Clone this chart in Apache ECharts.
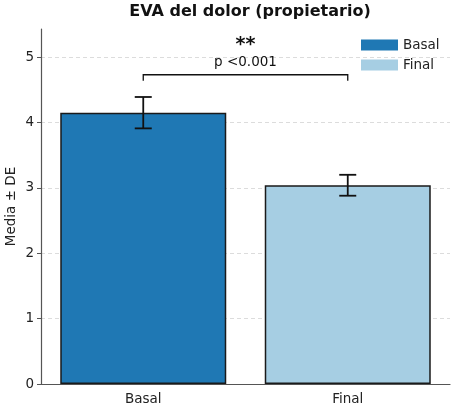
<!DOCTYPE html>
<html>
<head>
<meta charset="utf-8">
<script src="https://cdn.jsdelivr.net/npm/echarts@6/dist/echarts.min.js"></script>
<style>
  html, body { margin: 0; padding: 0; background: #fff; }
  #chart { width: 451px; height: 417px; }
</style>
</head>
<body>
<div id="chart"></div>
<script>
// datos
var categories = ['Basal', 'Final'];
var means = [4.15, 3.04];
var sds = [0.24, 0.16];
var yTicks = [0, 1, 2, 3, 4, 5];
var colors = ['#1f78b4', '#a6cee3'];

// anotación de significación
var sigPair = [0, 1];
var sigBracketY = 4.73;
var sigDrop = 0.09;
var sigStarsY = 5.19;
var sigTextY = 4.92;
var sigStars = '**';
var sigText = 'p <0.001';

var chart = echarts.init(document.getElementById('chart'));
var font = 'DejaVu Sans';

var barSeries = categories.map(function(name, i) {
  return {
    name: name,
    type: 'bar',
    stack: 'g',
    barWidth: 166,
    data: categories.map(function(c, j) { return j === i ? means[i] : '-' }),
    itemStyle: { color: colors[i], borderColor: '#1a1a1a', borderWidth: 1.5 },
    emphasis: { disabled: true },
    z: 2
  }
});

var errData = means.map(function(m, i) { return [i, m - sds[i], m + sds[i]] });

option = {
  animation: false,
  textStyle: { fontFamily: font },
  title: {
    text: 'EVA del dolor (propietario)',
    left: 245, top: -1, textAlign: 'center',
    textStyle: { fontFamily: font, fontSize: 16, fontWeight: 'bold', color: '#111' }
  },
  legend: {
    orient: 'vertical',
    left: 361, top: 37, padding: 0,
    itemWidth: 37, itemHeight: 11, itemGap: 4,
    icon: 'rect',
    data: categories,
    itemStyle: { borderWidth: 0 },
    textStyle: { fontFamily: font, fontSize: 13.5, color: '#222', lineHeight: 16 }
  },
  grid: { left: 41, right: 1, top: 29, bottom: 33, containLabel: false, outerBoundsMode: 'none' },
  xAxis: {
    type: 'category',
    data: categories,
    axisLine: { lineStyle: { color: '#555', width: 1.2 } },
    axisTick: { alignWithLabel: true, length: 4, lineStyle: { color: '#555' } },
    axisLabel: { fontFamily: font, fontSize: 13.5, color: '#222', margin: 8 },
    splitLine: { show: false }
  },
  yAxis: {
    type: 'value',
    min: 0, max: 5.43, interval: 1,
    name: 'Media ± DE',
    nameLocation: 'middle',
    nameGap: 23,
    nameMoveOverlap: false,
    nameTextStyle: { fontFamily: font, fontSize: 13.5, color: '#222' },
    axisLine: { show: true, lineStyle: { color: '#555', width: 1.2 } },
    axisTick: { show: true, length: 4, customValues: yTicks, lineStyle: { color: '#555' } },
    axisLabel: { fontFamily: font, fontSize: 13.5, color: '#222', margin: 7, customValues: yTicks },
    splitLine: { show: true, lineStyle: { color: '#dcdcdc', type: [4, 3], width: 1 } }
  },
  series: barSeries.concat([
    {
      type: 'custom',
      name: 'err',
      data: errData,
      z: 5,
      silent: true,
      renderItem: function(params, api) {
        var lo = api.coord([api.value(0), api.value(1)]);
        var hi = api.coord([api.value(0), api.value(2)]);
        var cap = 8.5;
        var st = { stroke: '#111', lineWidth: 1.8 };
        return {
          type: 'group',
          children: [
            { type: 'line', shape: { x1: lo[0], y1: lo[1], x2: hi[0], y2: hi[1] }, style: st },
            { type: 'line', shape: { x1: lo[0] - cap, y1: lo[1], x2: lo[0] + cap, y2: lo[1] }, style: st },
            { type: 'line', shape: { x1: hi[0] - cap, y1: hi[1], x2: hi[0] + cap, y2: hi[1] }, style: st }
          ]
        };
      }
    },
    {
      type: 'custom',
      name: 'sig',
      data: [[sigPair[0], sigPair[1], sigBracketY]],
      z: 5,
      silent: true,
      clip: false,
      renderItem: function(params, api) {
        var a = api.coord([api.value(0), api.value(2)]);
        var b = api.coord([api.value(1), api.value(2)]);
        var a0 = api.coord([api.value(0), api.value(2) - sigDrop]);
        var b0 = api.coord([api.value(1), api.value(2) - sigDrop]);
        var mid = (a[0] + b[0]) / 2;
        var ys = api.coord([api.value(0), sigStarsY])[1];
        var yp = api.coord([api.value(0), sigTextY])[1];
        return {
          type: 'group',
          children: [
            { type: 'polyline', shape: { points: [a0, a, b, b0] },
              style: { stroke: '#111', lineWidth: 1.3, fill: null } },
            { type: 'text', x: mid, y: ys,
              style: { text: sigStars, font: 'bold 19px "DejaVu Sans"', fill: '#111', align: 'center', verticalAlign: 'middle' } },
            { type: 'text', x: mid, y: yp,
              style: { text: sigText, font: '13.5px "DejaVu Sans"', fill: '#111', align: 'center', verticalAlign: 'middle' } }
          ]
        };
      }
    }
  ])
};
chart.setOption(option);
</script>
</body>
</html>
